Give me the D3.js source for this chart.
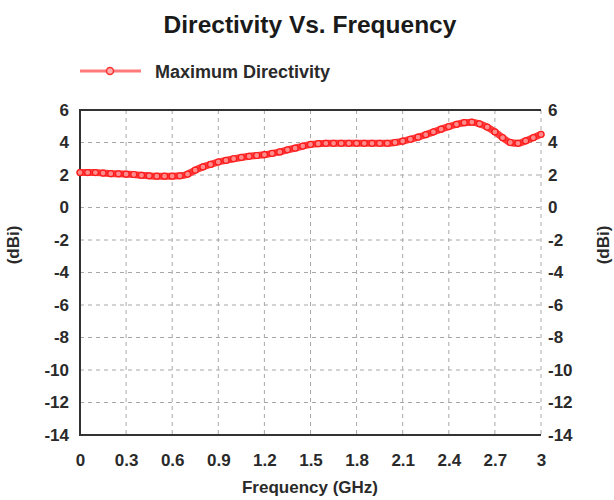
<!DOCTYPE html>
<html>
<head>
<meta charset="utf-8">
<script src="https://cdn.jsdelivr.net/npm/d3@7"></script>
<style>
  body { margin: 0; background: #fff; }
  text { font-family: "Liberation Sans", Arial, sans-serif; }
</style>
</head>
<body>
<svg id="svg"></svg>
<script>
// frequency (GHz) and maximum directivity (dBi)
const freq = [0, 0.05, 0.1, 0.15, 0.2, 0.25, 0.3, 0.35, 0.4, 0.45, 0.5, 0.55, 0.6, 0.65, 0.7, 0.75,
  0.8, 0.85, 0.9, 0.95, 1.0, 1.05, 1.1, 1.15, 1.2, 1.25, 1.3, 1.35, 1.4, 1.45, 1.5, 1.55, 1.6,
  1.65, 1.7, 1.75, 1.8, 1.85, 1.9, 1.95, 2.0, 2.05, 2.1, 2.15, 2.2, 2.25, 2.3, 2.35, 2.4, 2.45,
  2.5, 2.55, 2.6, 2.65, 2.7, 2.75, 2.8, 2.85, 2.9, 2.95, 3.0]
const directivity = [2.15, 2.15, 2.15, 2.12, 2.08, 2.07, 2.05, 2.03, 1.98, 1.95, 1.93, 1.93, 1.93,
  1.95, 2.05, 2.3, 2.5, 2.65, 2.8, 2.9, 3.0, 3.08, 3.15, 3.2, 3.25, 3.33, 3.42, 3.55, 3.65, 3.78,
  3.88, 3.93, 3.95, 3.95, 3.95, 3.95, 3.95, 3.95, 3.95, 3.95, 3.95, 4.0, 4.08, 4.2, 4.33, 4.48,
  4.65, 4.82, 4.98, 5.12, 5.22, 5.25, 5.15, 4.95, 4.65, 4.3, 4.0, 3.95, 4.1, 4.3, 4.5]
const xTicks = [0, 0.3, 0.6, 0.9, 1.2, 1.5, 1.8, 2.1, 2.4, 2.7, 3]
const yTicks = [6, 4, 2, 0, -2, -4, -6, -8, -10, -12, -14]

const svg = d3.select("#svg").attr("width", 614).attr("height", 500)

const plotL = 80, plotR = 541, plotT = 110, plotB = 435

const x = d3.scaleLinear().domain([0, 3]).range([plotL, plotR])
const y = d3.scaleLinear().domain([-14, 6]).range([plotB, plotT])

// title
svg.append("text")
  .attr("x", 310).attr("y", 33)
  .attr("text-anchor", "middle")
  .attr("font-size", 24.5).attr("font-weight", "bold")
  .attr("fill", "#1a1a1a")
  .text("Directivity Vs. Frequency")

// legend
const legend = svg.append("g")
legend.append("line")
  .attr("x1", 80).attr("x2", 141).attr("y1", 71).attr("y2", 71)
  .attr("stroke", "#ff7a7a").attr("stroke-width", 3)
legend.append("circle")
  .attr("cx", 110).attr("cy", 71).attr("r", 3.5)
  .attr("fill", "#ffb0b0").attr("stroke", "#ff3030").attr("stroke-width", 1.5)
legend.append("text")
  .attr("x", 155).attr("y", 78)
  .attr("font-size", 18).attr("font-weight", "bold")
  .attr("fill", "#2a2a2a")
  .text("Maximum Directivity")

// grid
const grid = svg.append("g")
  .attr("stroke", "#a8a8a8").attr("stroke-width", 1).attr("stroke-dasharray", "4,4")
grid.selectAll("line.gx")
  .data(xTicks.slice(1))
  .enter().append("line")
  .attr("x1", d => x(d)).attr("x2", d => x(d))
  .attr("y1", plotT).attr("y2", plotB)
grid.selectAll("line.gy")
  .data(yTicks.slice(1, -1))
  .enter().append("line")
  .attr("x1", plotL).attr("x2", plotR)
  .attr("y1", d => y(d)).attr("y2", d => y(d))

// frame: left, top, bottom solid
svg.append("path")
  .attr("d", `M${plotR},${plotT}H${plotL}V${plotB}H${plotR}`)
  .attr("fill", "none").attr("stroke", "#333").attr("stroke-width", 2)

// tick labels via d3 axes (no domain/ticks drawn)
const xAxis = svg.append("g")
  .attr("transform", `translate(0,${plotB})`)
  .call(d3.axisBottom(x).tickValues(xTicks).tickSize(0).tickPadding(19).tickFormat(d3.format("")))
const yAxisL = svg.append("g")
  .attr("transform", `translate(${plotL},0)`)
  .call(d3.axisLeft(y).tickValues(yTicks).tickSize(0).tickPadding(11))
const yAxisR = svg.append("g")
  .attr("transform", `translate(${plotR},0)`)
  .call(d3.axisRight(y).tickValues(yTicks).tickSize(0).tickPadding(7))
;[xAxis, yAxisL, yAxisR].forEach(a => {
  a.select(".domain").remove()
  a.selectAll("text")
    .attr("font-family", "'Liberation Sans', Arial, sans-serif")
    .attr("font-size", 17).attr("font-weight", "bold").attr("fill", "#2a2a2a")
})
yAxisL.selectAll("text").text(d => d < 0 ? "-" + Math.abs(d) : d)
yAxisR.selectAll("text").text(d => d < 0 ? "-" + Math.abs(d) : d)

// axis titles
svg.append("text")
  .attr("x", 310).attr("y", 493)
  .attr("text-anchor", "middle")
  .attr("font-size", 17).attr("font-weight", "bold").attr("fill", "#2a2a2a")
  .text("Frequency (GHz)")
svg.append("text")
  .attr("transform", "translate(19,245) rotate(-90)")
  .attr("text-anchor", "middle")
  .attr("font-size", 17).attr("font-weight", "bold").attr("fill", "#2a2a2a")
  .text("(dBi)")
svg.append("text")
  .attr("transform", "translate(609,245) rotate(-90)")
  .attr("text-anchor", "middle")
  .attr("font-size", 17).attr("font-weight", "bold").attr("fill", "#2a2a2a")
  .text("(dBi)")

// series: thick red band of dense markers
const pts = freq.map((f, i) => [f, directivity[i]])
svg.append("path")
  .datum(pts)
  .attr("fill", "none").attr("stroke", "#ff3a3a").attr("stroke-width", 7)
  .attr("stroke-linecap", "round")
  .attr("d", d3.line().x(d => x(d[0])).y(d => y(d[1])).curve(d3.curveMonotoneX))
svg.append("g").selectAll("circle")
  .data(pts)
  .enter().append("circle")
  .attr("cx", d => x(d[0])).attr("cy", d => y(d[1])).attr("r", 3)
  .attr("fill", "#ff8c8c").attr("stroke", "#ff1a1a").attr("stroke-width", 1.2)
</script>
</body>
</html>
